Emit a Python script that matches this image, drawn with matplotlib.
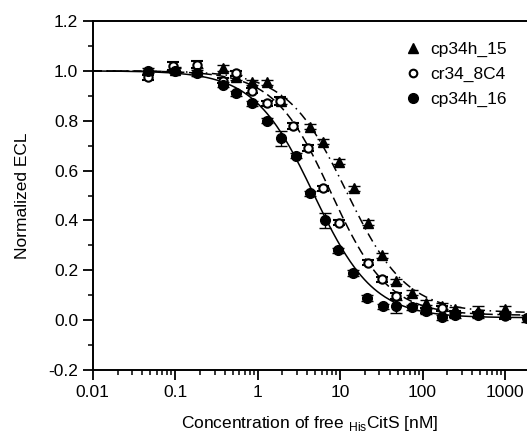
import matplotlib
matplotlib.use("Agg")
import matplotlib.pyplot as plt
import matplotlib.ticker as mticker
from matplotlib.lines import Line2D
import numpy as np

plt.rcParams['font.family'] = ['Liberation Sans', 'DejaVu Sans']
plt.rcParams['mathtext.fontset'] = 'custom'
plt.rcParams['mathtext.rm'] = 'Liberation Sans'

# ── DATA ─────────────────────────────────────────────────────────────────
# cp34h_15 (triangles)
x_t = [0.1, 0.184, 0.38, 0.55, 0.86, 1.3, 1.9, 4.3, 6.2, 9.8, 14.8, 21.9,
       32, 48, 75, 111, 173, 250, 474, 1000]
y_t = [1.005, 1.0, 1.01, 0.975, 0.955, 0.955, 0.88, 0.775, 0.715, 0.635,
       0.53, 0.39, 0.26, 0.157, 0.11, 0.07, 0.056, 0.044, 0.036, 0.044]
e_t = [0.01, 0.01, 0.012, 0.01, 0.01, 0.01, 0.012, 0.01, 0.01, 0.01,
       0.01, 0.01, 0.01, 0.01, 0.01, 0.01, 0.012, 0.01, 0.02, 0.012]

# cr34_8C4 (open circles)
x_o = [0.047, 0.094, 0.184, 0.38, 0.55, 0.86, 1.3, 1.88, 2.7, 4.1, 6.2,
       9.8, 21.9, 32, 48, 111, 173, 250, 474, 1000]
y_o = [0.975, 1.02, 1.025, 0.96, 0.99, 0.92, 0.87, 0.88, 0.78, 0.69, 0.53,
       0.39, 0.23, 0.165, 0.096, 0.04, 0.048, 0.024, 0.024, 0.016]
e_o = [0.01, 0.015, 0.015, 0.01, 0.01, 0.01, 0.01, 0.015, 0.012, 0.012,
       0.01, 0.01, 0.01, 0.01, 0.012, 0.01, 0.01, 0.012, 0.01, 0.01]

# cp34h_16 (filled circles)
x_f = [0.047, 0.1, 0.184, 0.38, 0.55, 0.86, 1.3, 1.9, 2.9, 4.3, 6.6, 9.5,
       14.4, 21.3, 33, 48, 75, 111, 173, 250, 474, 1000, 1850]
y_f = [1.0, 1.0, 0.99, 0.944, 0.91, 0.87, 0.80, 0.73, 0.66, 0.51, 0.40,
       0.28, 0.19, 0.088, 0.056, 0.056, 0.052, 0.036, 0.012, 0.02, 0.02,
       0.02, 0.008]
e_f = [0.01, 0.01, 0.012, 0.01, 0.01, 0.01, 0.01, 0.03, 0.01, 0.01, 0.03,
       0.01, 0.012, 0.012, 0.01, 0.025, 0.01, 0.01, 0.01, 0.01, 0.01, 0.01,
       0.015]

labels = ['cp34h_15', 'cr34_8C4', 'cp34h_16']

# 4-parameter logistic fits: (top, bottom, IC50, hill)
fit_t = (1.0, 0.03, 12.0, 1.2)
fit_o = (1.0, 0.02, 7.8, 1.25)
fit_f = (1.0, 0.01, 4.8, 1.2)


def logistic(x, top, bottom, ic50, hill):
    return bottom + (top - bottom) / (1 + (x / ic50) ** hill)


# ── PLOT ─────────────────────────────────────────────────────────────────
fig = plt.figure(figsize=(5.27, 4.37), dpi=100)
ax = fig.add_axes([0.176, 0.153, 0.824, 0.799])

xs = np.logspace(-2, np.log10(2000), 400)
ax.plot(xs, logistic(xs, *fit_t), color='black', lw=1.1, ls=(0, (6, 3, 1, 3)))
ax.plot(xs, logistic(xs, *fit_o), color='black', lw=1.1, ls=(0, (6, 3)))
ax.plot(xs, logistic(xs, *fit_f), color='black', lw=1.1, ls='-')

common = dict(color='black', ecolor='black', elinewidth=1.0, capsize=4,
              capthick=1.0, ls='none')
ax.errorbar(x_t, y_t, yerr=e_t, marker='^', ms=7, mfc='black', mec='black', **common)
ax.errorbar(x_o, y_o, yerr=e_o, marker='o', ms=6, mfc='white', mec='black',
            mew=1.5, **common)
ax.errorbar(x_f, y_f, yerr=e_f, marker='o', ms=7, mfc='black', mec='black', **common)

ax.set_xscale('log')
ax.set_xlim(0.01, 1850)
ax.set_ylim(-0.2, 1.2)

ax.xaxis.set_major_locator(mticker.FixedLocator([0.01, 0.1, 1, 10, 100, 1000]))
ax.xaxis.set_major_formatter(mticker.FuncFormatter(lambda v, p: f'{v:g}'))
ax.xaxis.set_minor_locator(mticker.LogLocator(base=10, subs=np.arange(2, 10)))
ax.xaxis.set_minor_formatter(mticker.NullFormatter())
ax.yaxis.set_major_locator(mticker.MultipleLocator(0.2))
ax.yaxis.set_minor_locator(mticker.MultipleLocator(0.1))
ax.yaxis.set_major_formatter(mticker.FuncFormatter(lambda v, p: f'{v:.1f}'))

ax.tick_params(which='major', direction='out', length=7, width=1.3, labelsize=12.5)
ax.tick_params(which='minor', direction='out', length=3.5, width=1.1)
for s in ['left', 'bottom', 'top']:
    ax.spines[s].set_linewidth(1.4)
ax.spines['right'].set_visible(False)

ax.set_ylabel('Normalized ECL', fontsize=12.5, labelpad=13)
ax.set_xlabel(r'Concentration of free $_{\mathrm{His}}$CitS [nM]', fontsize=12.5, labelpad=10)

handles = [
    Line2D([], [], ls='none', marker='^', ms=7, mfc='black', mec='black'),
    Line2D([], [], ls='none', marker='o', ms=5.5, mfc='white', mec='black', mew=1.5),
    Line2D([], [], ls='none', marker='o', ms=7, mfc='black', mec='black'),
]
ax.legend(handles, labels, loc='upper right', frameon=False, fontsize=12.5,
          handlelength=1.0, handletextpad=0.5, labelspacing=0.55,
          borderaxespad=0.5, bbox_to_anchor=(0.99, 0.985))

fig.savefig('out.png', dpi=100)
